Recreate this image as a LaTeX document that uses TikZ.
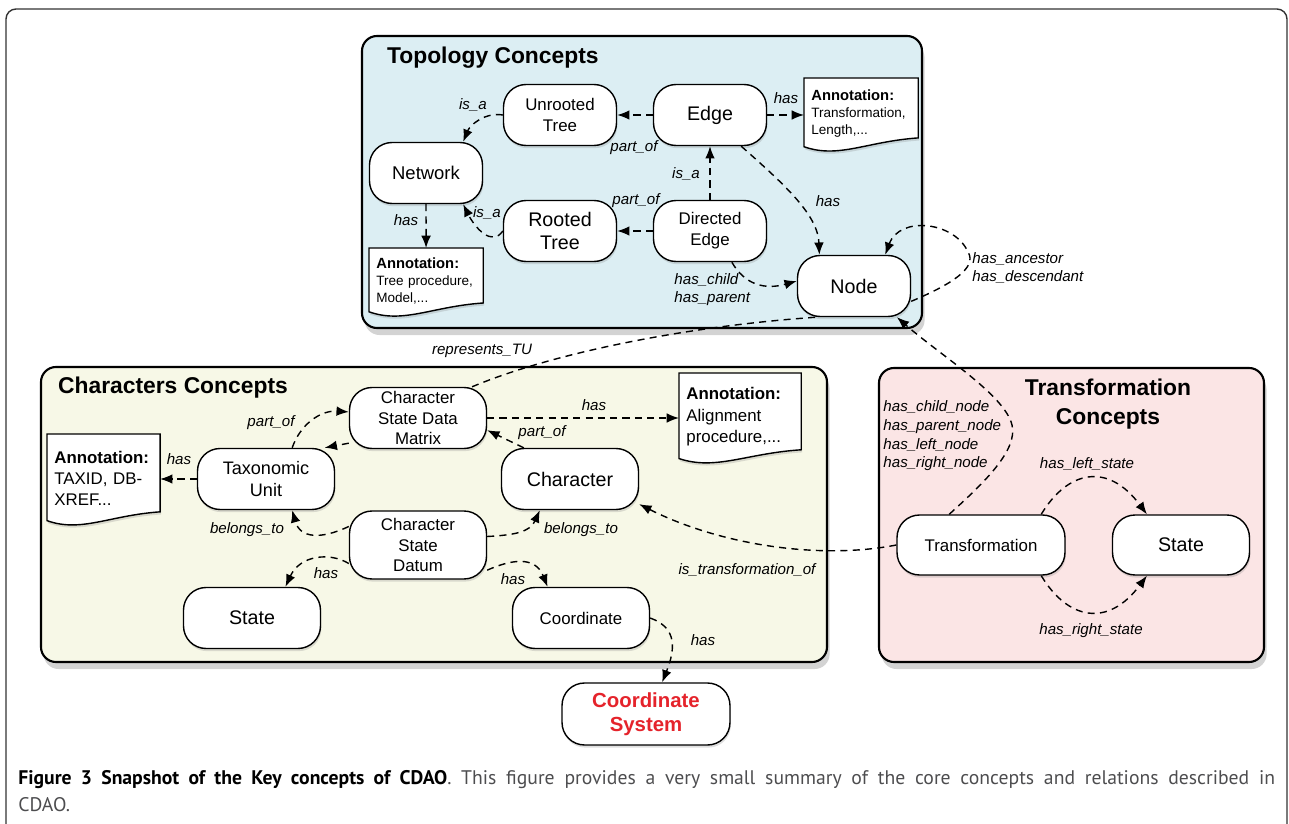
\documentclass[tikz,border=0pt]{standalone}
\usepackage{fontspec}
\setmainfont{Liberation Sans}
\newfontfamily\capfont{PT Sans}
\usetikzlibrary{arrows.meta,shadows,calc}
\pgfdeclarelayer{panels}
\pgfdeclarelayer{docs}
\pgfsetlayers{panels,docs,main}
\definecolor{topo}{HTML}{DCEEF3}
\definecolor{chars}{HTML}{F7F8E7}
\definecolor{trans}{HTML}{FBE5E5}
\definecolor{csred}{HTML}{E5232B}
\definecolor{capgray}{HTML}{4D4D4F}

\begin{document}
\begin{tikzpicture}[x=0.02cm, y=-0.02cm]
		\tikzstyle{every node}=[inner sep=1pt, align=center]
		\tikzstyle{concept}=[draw, fill=white, line width=0.8pt, rounded corners=0.45cm, minimum width=2.26cm, minimum height=1.22cm, font=\fontsize{9.6}{11.9}\selectfont, drop shadow={shadow xshift=0.5pt, shadow yshift=-1.5pt, opacity=0.25}]
		\tikzstyle{cwide}=[minimum width=2.74cm]
		\tikzstyle{bigtxt}=[font=\fontsize{11.2}{12.6}\selectfont]
		\tikzstyle{ttl}=[font=\fontsize{13}{16.4}\selectfont\bfseries]
		\tikzstyle{anno}=[anchor=north west, align=left, inner xsep=4pt, inner ysep=1pt]
		\tikzstyle{panel}=[line width=1.2pt, rounded corners=0.3cm, drop shadow={shadow xshift=1.5pt, shadow yshift=-4pt, opacity=0.35}]
		\tikzstyle{rel}=[line width=0.8pt, dash pattern=on 4pt off 3pt, -{Latex[length=7pt, width=5.5pt]}]
		\tikzstyle{lbl}=[font=\fontsize{8.6}{10.3}\selectfont\itshape]
		\useasboundingbox (0,0) rectangle (1289,824);
		\begin{pgfonlayer}{panels}
			\draw[line width=0.8pt, draw=black!80, rounded corners=0.2cm] (6,9) rectangle (1287,850);
			\draw[panel, fill=topo] (362,36) rectangle (922,328);
			\draw[panel, fill=chars] (41,367) rectangle (827,662);
			\draw[panel, fill=trans] (879,368) rectangle (1264,662);
		\end{pgfonlayer}
		\node[ttl, anchor=west] (TT) at (385,58) {Topology Concepts};
		\node[ttl, anchor=west] (CT) at (56,388) {Characters Concepts};
		\node[ttl] (XT) at (1108,404) {Transformation\\Concepts};
		\node[concept] (UT) at (560,115) {Unrooted\\Tree};
		\node[concept, bigtxt] (E) at (710,115) {Edge};
		\node[concept, font=\fontsize{10.5}{12}\selectfont] (NW) at (426,173) {Network};
		\node[concept, bigtxt] (RT) at (560,231) {Rooted\\Tree};
		\node[concept] (DE) at (710,231) {Directed\\Edge};
		\node[concept, bigtxt] (N) at (854,286) {Node};
		\node[concept, cwide] (CSDM) at (418,418) {Character\\State Data\\Matrix};
		\node[concept, cwide, font=\fontsize{10.3}{12}\selectfont] (TU) at (266,479) {Taxonomic\\Unit};
		\node[concept, cwide, bigtxt] (CH) at (570,479) {Character};
		\node[concept, cwide, minimum height=1.36cm] (CSD) at (418,545) {Character\\State\\Datum};
		\node[concept, cwide, bigtxt] (ST) at (252,618) {State};
		\node[concept, cwide] (CO) at (581,618) {Coordinate};
		\node[concept, minimum width=3.36cm, minimum height=1.24cm, font=\fontsize{11.6}{13.4}\selectfont\bfseries, text=csred] (CS) at (646,714) {Coordinate\\System};
		\node[concept, minimum width=3.36cm, minimum height=1.2cm] (TR) at (981,545) {Transformation};
		\node[concept, cwide, bigtxt, minimum height=1.2cm] (ST2) at (1181,545) {State};
		\node[anno, text width=56.6pt, minimum height=39.7pt, font=\fontsize{7.7}{9.6}\selectfont] (AE) at (804,78) {{\fontsize{8.4}{9.6}\selectfont\bfseries Annotation:}\\Transformation,\\Length,...};
		\node[anno, text width=56.6pt, minimum height=36.9pt, font=\fontsize{7.7}{9.6}\selectfont] (AN) at (369,248) {{\fontsize{8.4}{9.6}\selectfont\bfseries Annotation:}\\Tree procedure,\\Model,...};
		\node[anno, text width=56pt, minimum height=49.9pt, font=\fontsize{9.6}{12}\selectfont] (AT) at (47,434) {\textbf{Annotation:}\\TAXID, DB-\\XREF...};
		\node[anno, text width=61.2pt, minimum height=49.3pt, font=\fontsize{9.6}{12}\selectfont] (AA) at (679,373) {\textbf{Annotation:}\\Alignment\\procedure,...};
		\begin{pgfonlayer}{docs}
			\foreach \a in {AE,AN,AT,AA}
				\draw[line width=0.8pt, fill=white, drop shadow={shadow xshift=0.5pt, shadow yshift=-1.5pt, opacity=0.25}] (\a.north west) -- (\a.north east) -- ($(\a.south east)+(0,6pt)$) .. controls ($(\a.south west)!.55!(\a.south east)+(0,4pt)$) and ($(\a.south west)!.3!(\a.south east)+(0,-6pt)$) .. ($(\a.south west)+(0,1pt)$) -- cycle;
		\end{pgfonlayer}
		\draw[rel] (E) -- (UT) node[lbl] (l1) at (634,148) {part\_of};
		\draw[rel] (DE) -- (RT) node[lbl] (l2) at (636,201) {part\_of};
		\draw[rel] (DE) -- (E) node[lbl] (l3) at (686,174) {is\_a};
		\draw[rel] (UT.west) .. controls (485,112) and (470,125) .. (NW.40) node[lbl] (l4) at (473,105) {is\_a};
		\draw[rel] (RT.west) .. controls (492,247) and (475,228) .. (NW.-40) node[lbl] (l5) at (487,213) {is\_a};
		\draw[rel] (NW) -- (AN) node[lbl] (l6) at (406,220) {has};
		\draw[rel] (E.east) -- (E.east -| AE.west) node[lbl] (l7) at (786,98) {has};
		\draw[rel] (E.-45) .. controls (785,185) and (818,215) .. (N.138) node[lbl] (l8) at (828,201) {has};
		\draw[rel] (DE.-55) .. controls (745,285) and (765,290) .. (N.175) node[lbl, align=left, anchor=west] (l9) at (672,290) {has\_child\\has\_parent};
		\draw[rel] (N.-15) .. controls (950,285) and (978,268) .. (968,252) .. controls (955,222) and (900,215) .. (N.45) node[lbl, align=left, anchor=west] (l10) at (970,268) {has\_ancestor\\has\_descendant};
		\draw[line width=0.8pt, dash pattern=on 4pt off 3pt] (CSDM.30) .. controls (560,350) and (700,325) .. (N.-140) node[lbl] (l11) at (482,351) {represents\_TU};
		\draw[rel] (TR.136) .. controls (985,482) and (1018,450) .. (1012,425) .. controls (1005,395) and (940,355) .. (N.-36) node[lbl, align=left, anchor=west, font=\fontsize{8.6}{10.6}\selectfont\itshape] (l12) at (881,436) {has\_child\_node\\has\_parent\_node\\has\_left\_node\\has\_right\_node};
		\draw[rel] (TR.27) .. controls (1068,470) and (1108,462) .. (ST2.138) node[lbl] (l13) at (1087,464) {has\_left\_state};
		\draw[rel] (TR.-27) .. controls (1068,620) and (1108,628) .. (ST2.-138) node[lbl] (l14) at (1091,631) {has\_right\_state};
		\draw[rel] (TU.50) .. controls (300,425) and (320,410) .. (CSDM.175) node[lbl] (l15) at (271,423) {part\_of};
		\draw[rel] (CSDM.200) -- (TU.28);
		\draw[rel] (TU.west) -- (TU.west -| AT.east) node[lbl] (l16) at (179,459) {has};
		\draw[rel] (CSDM.east) -- (CSDM.east -| AA.west) node[lbl] (l17) at (594,405) {has};
		\draw[rel] (CH.146) -- (CSDM.-10) node[lbl] (l18) at (542,433) {part\_of};
		\draw[rel] (CSD.165) .. controls (320,540) and (300,538) .. (TU.-50) node[lbl] (l19) at (247,530) {belongs\_to};
		\draw[rel] (CSD.7) .. controls (515,535) and (530,532) .. (CH.-134) node[lbl] (l20) at (581,530) {belongs\_to};
		\draw[rel] (CSD.-165) .. controls (330,552) and (300,555) .. (ST.43) node[lbl] (l21) at (326,573) {has};
		\draw[rel] (CSD.-20) .. controls (510,560) and (535,555) .. (CO.137) node[lbl] (l22) at (513,579) {has};
		\draw[rel] (CO.east) .. controls (678,628) and (675,650) .. (CS.63) node[lbl] (l23) at (703,640) {has};
		\draw[rel] (TR.west) .. controls (820,560) and (720,545) .. (CH.-20) node[lbl] (l24) at (747,570) {is\_transformation\_of};
		\node[anchor=north west, text width=25.14cm, align=justify, inner sep=0pt, text=capgray, font=\capfont\fontsize{11.2}{15.3}\selectfont] (CAP) at (18,770) {{\bfseries\color{black}Figure 3 Snapshot of the Key concepts of CDAO}. This figure provides a very small summary of the core concepts and relations described in\linebreak CDAO.};
\end{tikzpicture}
\end{document}
